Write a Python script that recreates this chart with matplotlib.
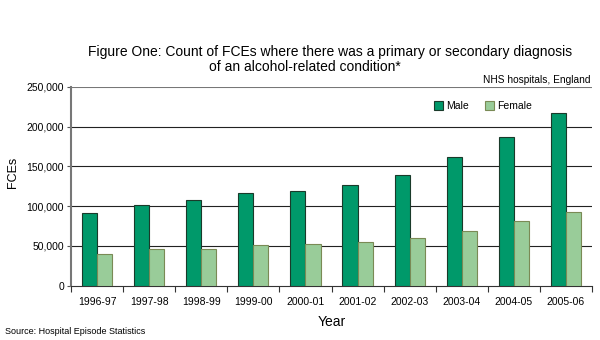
import matplotlib.pyplot as plt
import numpy as np
from matplotlib.ticker import FuncFormatter

plt.rcParams['font.family'] = ['Liberation Sans', 'DejaVu Sans']

# Dados
years = ['1996-97', '1997-98', '1998-99', '1999-00', '2000-01',
         '2001-02', '2002-03', '2003-04', '2004-05', '2005-06']
male = [91700, 101700, 107300, 116400, 118500,
        126100, 138600, 161200, 186700, 217300]
female = [39400, 45700, 45700, 51000, 52000,
          54500, 60300, 68700, 81300, 92600]

male_color = '#00996a'
female_color = '#99cc99'

fig = plt.figure(figsize=(6, 3.4), dpi=100)
ax = fig.add_axes([0.1183, 0.1597, 0.8684, 0.5853])

x = np.arange(len(years))
w = 0.29
ax.bar(x - w / 2, male, w, color=male_color, edgecolor='#1a3a2a',
       linewidth=0.8, label='Male', zorder=3)
ax.bar(x + w / 2, female, w, color=female_color, edgecolor='#7a8a55',
       linewidth=0.8, label='Female', zorder=3)

ax.set_xlim(-0.5, len(years) - 0.5)
ax.set_ylim(0, 250000)
ax.set_yticks(np.arange(0, 250001, 50000))
ax.yaxis.set_major_formatter(FuncFormatter(lambda v, p: f'{int(v):,}'))
for yv in range(50000, 250000, 50000):
    ax.axhline(yv, color='#222222', linewidth=0.8, zorder=1)
ax.axhline(250000, color='#777777', linewidth=1.5, zorder=1)

ax.set_xticks(x)
ax.set_xticklabels(years)
ax.set_xticks(np.arange(-0.5, len(years), 1), minor=True)
ax.tick_params(axis='x', which='major', length=0, labelsize=7.5, pad=8)
ax.tick_params(axis='x', which='minor', length=4, color='#333333', width=0.8)
ax.tick_params(axis='y', length=3, labelsize=7.5, color='#555555', pad=2)

for s in ['top', 'right']:
    ax.spines[s].set_visible(False)
ax.spines['left'].set_color('#777777')
ax.spines['left'].set_linewidth(1.5)
ax.spines['bottom'].set_color('#333333')
ax.spines['bottom'].set_linewidth(0.8)

ax.set_ylabel('FCEs', fontsize=9)
ax.yaxis.set_label_coords(-0.1, 0.571)
ax.set_xlabel('Year', fontsize=10, labelpad=6)

ax.legend(loc='upper right', bbox_to_anchor=(0.903, 0.975), ncol=2, frameon=False,
          fontsize=7.5, handlelength=0.9, handleheight=0.9, handletextpad=0.3,
          columnspacing=1.5)

fig.text(0.55, 0.835, 'Figure One: Count of FCEs where there was a primary or secondary diagnosis',
         ha='center', va='baseline', fontsize=10)
fig.text(0.508, 0.791, 'of an alcohol-related condition*',
         ha='center', va='baseline', fontsize=10)
fig.text(0.984, 0.756, 'NHS hospitals, England', ha='right', va='baseline', fontsize=7.3)
fig.text(0.008, 0.025, 'Source: Hospital Episode Statistics', ha='left', va='center', fontsize=6.5)

fig.savefig('out.png', dpi=100)
